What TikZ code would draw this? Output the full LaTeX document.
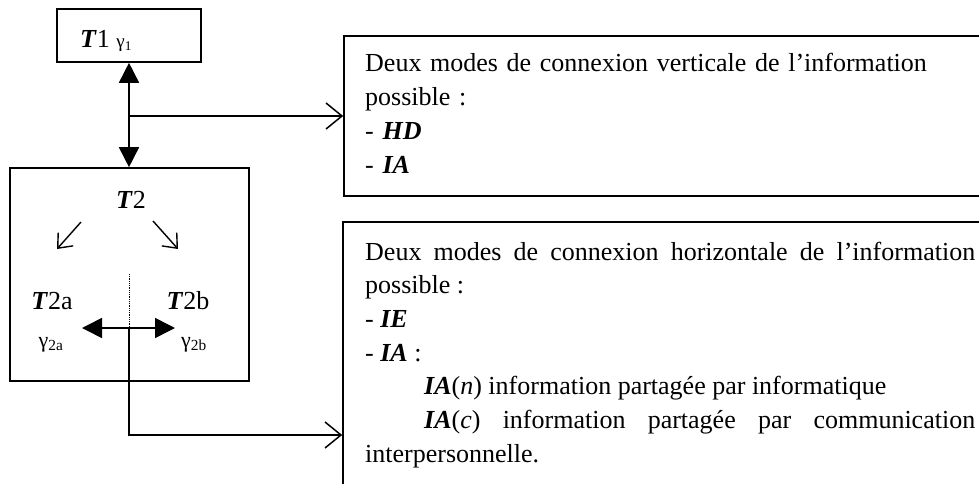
\documentclass[tikz,border=0pt]{standalone}
\usepackage{fontspec}
\setmainfont{Liberation Serif}
\usetikzlibrary{arrows.meta}
\hyphenpenalty=10000
\exhyphenpenalty=10000
\tolerance=10000
\newcommand{\bi}[1]{\textbf{\textit{#1}}}
\begin{document}
\begin{tikzpicture}[x=1pt,y=-1pt,
  box/.style={draw, line width=1.6pt, inner sep=0pt},
  lab/.style={font=\fontsize{26}{30}\selectfont, inner sep=0pt},
  gam/.style={font=\fontsize{22}{26}\selectfont, inner sep=0pt},
  solidhead/.style={line width=1.6pt, {Triangle[length=20pt,width=20pt]}-{Triangle[length=20pt,width=20pt]}},
  openhead/.style={line width=1.5pt, -{Straight Barb[length=16pt,width=26pt]}},
  smallhead/.style={line width=1.4pt, -{Straight Barb[length=12pt,width=20pt]}},
  txt/.style={font=\fontsize{26}{33.7}\selectfont, inner sep=0pt, anchor=base west}
]
\useasboundingbox (0,0) rectangle (979,484);
\clip (0,0) rectangle (979,484);

% left boxes
\node[box, minimum width=144pt, minimum height=53pt] (t1) at (129,35.5) {};
\node[lab, anchor=base west] (t1lab) at (80,48) {\bi{T}1 {\fontsize{19}{22}\selectfont γ\textsubscript{1}}};
\node[box, minimum width=239pt, minimum height=213pt] (t2) at (129.5,274.5) {};
\node[lab, anchor=base] (t2lab) at (131,208) {\bi{T}2};
\node[lab, anchor=base] (t2a) at (52,309) {\bi{T}2a};
\node[lab, anchor=base] (t2b) at (188,309) {\bi{T}2b};
\node[gam, anchor=base] (g2a) at (51,347) {γ\textsubscript{2a}};
\node[gam, anchor=base] (g2b) at (194,347) {γ\textsubscript{2b}};

% right boxes
\node[box, minimum width=656pt, minimum height=160pt] (b1) at (672,116) {};
\node[box, minimum width=657pt, minimum height=298pt] (b2) at (671.5,371) {};
\node[txt, text width=600pt, align=left] (b1txt) at (365,72) {Deux modes de connexion verticale de l’information\\
possible :\\
- \bi{HD}\\
- \bi{IA}};
\node[txt, text width=610pt, align=justify] (b2txt) at (365,260) {Deux modes de connexion horizontale de l’information possible :\par
- \bi{IE}\par
- \bi{IA} :\par
\hspace*{59pt}\bi{IA}(\textit{n}) information partagée par informatique\par
\hspace*{59pt}\bi{IA}(\textit{c}) information partagée par communication interpersonnelle.};

% connectors
\draw[solidhead] (t1.south) -- (t1.south |- t2.north);
\coordinate (j1) at (129,116);
\draw[openhead] (j1) -- (b1.west);

\coordinate (d1) at (81,222);
\coordinate (d2) at (57,249);
\coordinate (d3) at (153,221);
\coordinate (d4) at (178,249);
\draw[smallhead] (d1) -- (d2);
\draw[smallhead] (d3) -- (d4);

\coordinate (v1) at (129,274);
\coordinate (v2) at (129,352);
\draw[densely dotted, line width=0.8pt] (v1) -- (v2);

\coordinate (h1) at (82,328);
\coordinate (h2) at (175,328);
\draw[solidhead] (h1) -- (h2);
\coordinate (hm) at (129,328);
\coordinate (j2) at (129,435);
\draw[openhead] (hm) -- (j2) -- (j2 -| b2.west);
\end{tikzpicture}
\end{document}
